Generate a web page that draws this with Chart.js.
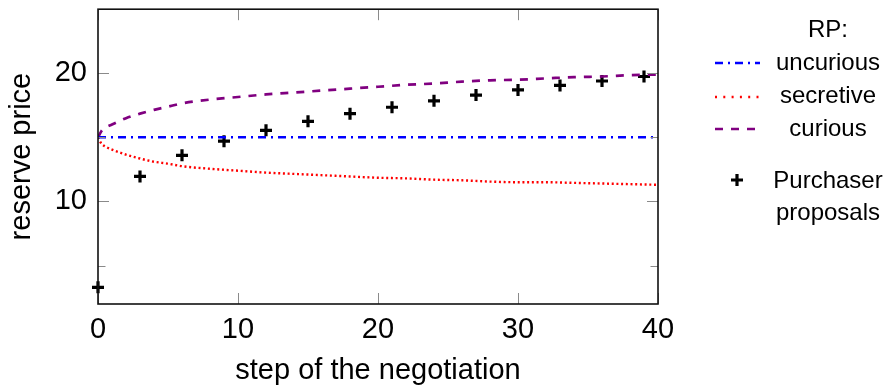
<!DOCTYPE html>
<html>
<head>
<meta charset="utf-8">
<script src="https://cdn.jsdelivr.net/npm/chart.js@4.4.0/dist/chart.umd.min.js"></script>
<style>
  html, body { margin: 0; padding: 0; background: #fff; }
  #wrap { width: 885px; height: 386px; position: relative; }
</style>
</head>
<body>
<div id="wrap"><canvas id="rpChart"></canvas></div>
<script>
// reserve price curves
const curveSteps  = [0, 0.25, 0.5, 1, 2, 3, 4, 5, 6, 8, 10, 12, 14, 16, 18, 20, 22, 24, 26, 28, 30, 32, 34, 36, 38, 40];
const curiousRP   = [15, 15.5, 15.75, 16.0, 16.5, 16.85, 17.15, 17.4, 17.65, 17.95, 18.15, 18.35, 18.5, 18.65, 18.8, 18.95, 19.1, 19.2, 19.35, 19.45, 19.5, 19.6, 19.7, 19.75, 19.85, 19.9];
const secretiveRP = [15, 14.5, 14.3, 14.05, 13.65, 13.35, 13.1, 12.95, 12.75, 12.55, 12.4, 12.25, 12.15, 12.05, 11.95, 11.85, 11.8, 11.7, 11.65, 11.55, 11.5, 11.5, 11.45, 11.4, 11.35, 11.3];
const uncuriousSteps = [0, 40];
const uncuriousRP    = [15, 15];

// purchaser proposals (every 3 steps)
const proposalSteps = [0, 3, 6, 9, 12, 15, 18, 21, 24, 27, 30, 33, 36, 39];
const proposals     = [3.3, 11.95, 13.6, 14.7, 15.55, 16.25, 16.85, 17.35, 17.85, 18.3, 18.7, 19.05, 19.4, 19.75];

const xTicks = [0, 10, 20, 30, 40];
const yTicks = [5, 10, 15, 20, 25];
const yLabelled = [10, 20];

const FONT = "'Liberation Sans', Arial, sans-serif";

const toPts = (xs, ys) => xs.map((x, i) => ({ x: x, y: ys[i] }));

// box around the plot + inward tick marks on all four sides
const frameTicks = {
    id: 'frameTicks',
    afterDatasetsDraw(chart) {
        const { ctx, chartArea: a, scales: { x, y } } = chart;
        ctx.save();
        ctx.strokeStyle = '#8a8a8a';
        ctx.lineWidth = 1;
        ctx.beginPath();
        xTicks.forEach(v => {
            const px = Math.round(x.getPixelForValue(v)) + 0.5;
            ctx.moveTo(px, a.top); ctx.lineTo(px, a.top + 11);
            ctx.moveTo(px, a.bottom); ctx.lineTo(px, a.bottom - 11);
        });
        yTicks.forEach(v => {
            const py = Math.round(y.getPixelForValue(v)) + 0.5;
            const len = yLabelled.includes(v) ? 11 : 7.5;
            ctx.moveTo(a.left, py); ctx.lineTo(a.left + len, py);
            ctx.moveTo(a.right, py); ctx.lineTo(a.right - len, py);
        });
        ctx.stroke();
        ctx.strokeStyle = '#111';
        ctx.lineWidth = 1.6;
        ctx.strokeRect(a.left, a.top, a.right - a.left, a.bottom - a.top);
        ctx.restore();
    }
};

// legend at the right, text centred like the original
const sideLegend = {
    id: 'sideLegend',
    afterDraw(chart) {
        const ctx = chart.ctx;
        const ds = chart.data.datasets;
        const cx = 828;
        ctx.save();
        ctx.fillStyle = '#000';
        ctx.font = '24px ' + FONT;
        ctx.textAlign = 'center';
        ctx.textBaseline = 'alphabetic';
        ctx.fillText('RP:', cx, 37);

        const rows = [
            { d: ds[0], y: 63, base: 70, x2: 760, dash: ds[0].borderDash },
            { d: ds[1], y: 97, base: 103, x2: 762, dash: [2, 6.3] },
            { d: ds[2], y: 129, base: 136, x2: 755, dash: ds[2].borderDash }
        ];
        rows.forEach(r => {
            ctx.save();
            ctx.strokeStyle = r.d.borderColor;
            ctx.lineWidth = r.d.borderWidth;
            ctx.setLineDash(r.dash);
            ctx.beginPath();
            ctx.moveTo(715, r.y);
            ctx.lineTo(r.x2, r.y);
            ctx.stroke();
            ctx.restore();
            ctx.fillText(r.d.label, cx, r.base);
        });

        // cross marker for the proposals
        const p = ds[3];
        ctx.save();
        ctx.strokeStyle = p.borderColor;
        ctx.lineWidth = p.borderWidth;
        ctx.beginPath();
        ctx.moveTo(737 - p.pointRadius, 180); ctx.lineTo(737 + p.pointRadius, 180);
        ctx.moveTo(737, 180 - p.pointRadius); ctx.lineTo(737, 180 + p.pointRadius);
        ctx.stroke();
        ctx.restore();
        ctx.fillText('Purchaser', cx, 188);
        ctx.fillText('proposals', cx, 220);
        ctx.restore();
    }
};

const ctx = document.getElementById('rpChart').getContext('2d');
new Chart(ctx, {
    type: 'scatter',
    data: {
        datasets: [
            {
                label: 'uncurious',
                data: toPts(uncuriousSteps, uncuriousRP),
                showLine: true,
                borderColor: '#0000ff',
                borderWidth: 2.5,
                borderDash: [8, 5, 2, 5],
                pointRadius: 0
            },
            {
                label: 'secretive',
                data: toPts(curveSteps, secretiveRP),
                showLine: true,
                borderColor: '#ff0000',
                borderWidth: 2.4,
                borderDash: [2, 2.7],
                cubicInterpolationMode: 'monotone',
                pointRadius: 0
            },
            {
                label: 'curious',
                data: toPts(curveSteps, curiousRP),
                showLine: true,
                borderColor: '#800080',
                borderWidth: 2.7,
                borderDash: [8, 8],
                cubicInterpolationMode: 'monotone',
                pointRadius: 0
            },
            {
                label: 'Purchaser proposals',
                data: toPts(proposalSteps, proposals),
                showLine: false,
                pointStyle: 'cross',
                pointRadius: 6,
                borderColor: '#000',
                backgroundColor: '#000',
                borderWidth: 3.2,
                clip: false
            }
        ]
    },
    options: {
        responsive: true,
        maintainAspectRatio: false,
        animation: false,
        events: [],
        layout: { padding: { top: 8, right: 227, left: 0, bottom: 0 } },
        plugins: {
            legend: { display: false },
            tooltip: { enabled: false }
        },
        scales: {
            x: {
                type: 'linear',
                min: 0,
                max: 40,
                afterBuildTicks: s => { s.ticks = xTicks.map(v => ({ value: v })); },
                afterFit: s => { s.height = 82; s.paddingLeft = 0; s.paddingRight = 0; },
                grid: { display: false, drawTicks: false },
                border: { display: false },
                ticks: { padding: 9, color: '#000', maxRotation: 0, font: { family: FONT, size: 29 } },
                title: {
                    display: true,
                    text: 'step of the negotiation',
                    color: '#000',
                    padding: { top: 0, bottom: 0 },
                    font: { family: FONT, size: 29, lineHeight: 1.05 }
                }
            },
            y: {
                type: 'linear',
                min: 2,
                max: 25,
                afterBuildTicks: s => { s.ticks = yTicks.map(v => ({ value: v })); },
                afterFit: s => { s.width = 98; s.paddingTop = 0; s.paddingBottom = 0; },
                grid: { display: false, drawTicks: false },
                border: { display: false },
                ticks: {
                    padding: 11,
                    color: '#000',
                    font: { family: FONT, size: 29 },
                    callback: v => yLabelled.includes(v) ? String(v) : ''
                },
                title: {
                    display: true,
                    text: 'reserve price',
                    color: '#000',
                    padding: { top: 5, bottom: 0 },
                    font: { family: FONT, size: 29 }
                }
            }
        }
    },
    plugins: [frameTicks, sideLegend]
});
</script>
</body>
</html>
